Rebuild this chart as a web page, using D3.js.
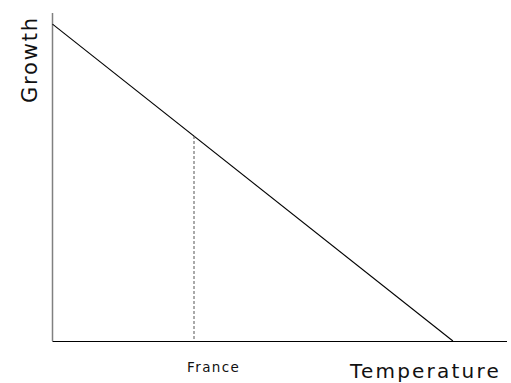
<!DOCTYPE html>
<html lang="en">

<head>
  <meta charset="UTF-8">
  <title>Growth vs Temperature</title>
  <script src="https://d3js.org/d3.v7.min.js"></script>
  <style>
    body { margin: 0; background: #fff; }
    text { font-family: "DejaVu Sans", Verdana, sans-serif; fill: #111; }
  </style>
</head>

<body>
  <svg width="511" height="383"></svg>
</body>

<script>
  // growth line: temperature -> growth
  const temperature = [0, 88.1];
  const growth = [96.6, 0];
  const markerLabels = ["France"];
  const markerTemps = [31.1];

  const svg = d3.select("svg");
  const margin = { left: 52.5, top: 13, right: 4, bottom: 42 };
  const width = +svg.attr("width");
  const height = +svg.attr("height");
  const innerWidth = width - margin.left - margin.right;
  const innerHeight = height - margin.top - margin.bottom;

  const g = svg.append("g")
    .attr("transform", "translate(" + margin.left + "," + margin.top + ")");

  const xScale = d3.scaleLinear().domain([0, 100]).range([0, innerWidth]);
  const yScale = d3.scaleLinear().domain([0, 100]).range([innerHeight, 0]);

  const pts = temperature.map((t, i) => [t, growth[i]]);
  const line = d3.line().x(d => xScale(d[0])).y(d => yScale(d[1]));

  // axes (no ticks)
  g.append("line")
    .attr("x1", 0).attr("x2", 0)
    .attr("y1", 0).attr("y2", innerHeight)
    .attr("stroke", "#808080").attr("stroke-width", 1.5);

  g.append("line")
    .attr("x1", 0).attr("x2", innerWidth)
    .attr("y1", innerHeight + 0.5).attr("y2", innerHeight + 0.5)
    .attr("stroke", "#000").attr("stroke-width", 1.2);

  g.append("path")
    .datum(pts)
    .attr("d", line)
    .attr("fill", "none")
    .attr("stroke", "#000")
    .attr("stroke-width", 1.1);

  // France marker
  const growthAt = t => growth[0] + (growth[1] - growth[0]) * (t - temperature[0]) / (temperature[1] - temperature[0]);
  markerTemps.forEach((t, i) => {
    const x = Math.round(xScale(t)) + 0.5;
    g.append("line")
      .attr("x1", x).attr("x2", x)
      .attr("y1", yScale(growthAt(t))).attr("y2", innerHeight)
      .attr("stroke", "#555").attr("stroke-width", 1)
      .attr("stroke-dasharray", "3,2");
    g.append("text")
      .attr("x", x - 7).attr("y", innerHeight + 31)
      .attr("text-anchor", "start")
      .attr("font-size", "13.5px")
      .attr("letter-spacing", "1.4px")
      .text(markerLabels[i]);
  });

  g.append("text")
    .attr("x", 297.5).attr("y", innerHeight + 37)
    .attr("text-anchor", "start")
    .attr("font-size", "20px")
    .attr("letter-spacing", "2.2px")
    .text("Temperature");

  g.append("text")
    .attr("transform", "translate(-15.5,90) rotate(-90)")
    .attr("text-anchor", "start")
    .attr("font-size", "21px")
    .attr("letter-spacing", "1.8px")
    .text("Growth");
</script>

</html>
